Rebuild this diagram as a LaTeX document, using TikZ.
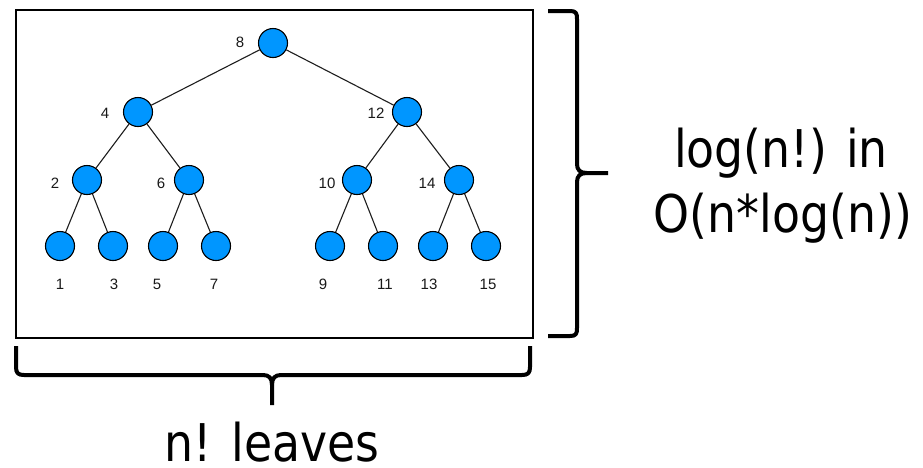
\documentclass[tikz,border=0pt]{standalone}
\usepackage{fontspec}
\setmainfont{Liberation Sans}
\newfontfamily\bigfont[FakeStretch=0.88]{DejaVu Sans}
\definecolor{nodeblue}{RGB}{0,150,255}
\definecolor{edgegray}{RGB}{30,30,30}
\begin{document}
\begin{tikzpicture}[x=1pt,y=-1pt,
  tnode/.style={circle,draw=black,line width=1.1pt,fill=nodeblue,minimum size=29pt,inner sep=0pt},
  tlabel/.style={font=\fontsize{15}{17}\selectfont,inner sep=0pt,text=black!90},
  tedge/.style={draw=edgegray,line width=1.1pt},
  bigtext/.style={font=\bigfont\fontsize{52}{62}\selectfont,inner sep=0pt,anchor=base},
  bracestyle/.style={draw=black,line width=4pt,line join=round}]
\useasboundingbox (0,0) rectangle (923,467);
\fill[white] (0,0) rectangle (923,467);
% frame
\draw[line width=1.5pt] (16,10) rectangle (533,338);
% nodes
\node[tnode] (n8) at (273,43) {};
\node[tnode] (n4) at (138,112) {};
\node[tnode] (n12) at (407,112) {};
\node[tnode] (n2) at (87,180) {};
\node[tnode] (n6) at (189,180) {};
\node[tnode] (n10) at (357,180) {};
\node[tnode] (n14) at (459,180) {};
\node[tnode] (n1) at (60,246) {};
\node[tnode] (n3) at (113,246) {};
\node[tnode] (n5) at (163,246) {};
\node[tnode] (n7) at (216,246) {};
\node[tnode] (n9) at (330,246) {};
\node[tnode] (n11) at (383,246) {};
\node[tnode] (n13) at (433,246) {};
\node[tnode] (n15) at (486,246) {};
% edges
\draw[tedge] (n8) -- (n4);
\draw[tedge] (n8) -- (n12);
\draw[tedge] (n4) -- (n2);
\draw[tedge] (n4) -- (n6);
\draw[tedge] (n12) -- (n10);
\draw[tedge] (n12) -- (n14);
\draw[tedge] (n2) -- (n1);
\draw[tedge] (n2) -- (n3);
\draw[tedge] (n6) -- (n5);
\draw[tedge] (n6) -- (n7);
\draw[tedge] (n10) -- (n9);
\draw[tedge] (n10) -- (n11);
\draw[tedge] (n14) -- (n13);
\draw[tedge] (n14) -- (n15);
% labels
\node[tlabel] (l8) at (240,42) {8};
\node[tlabel] (l4) at (105,113) {4};
\node[tlabel] (l12) at (376,113) {12};
\node[tlabel] (l2) at (55,183) {2};
\node[tlabel] (l6) at (161,183) {6};
\node[tlabel] (l10) at (327,183) {10};
\node[tlabel] (l14) at (427,183) {14};
\node[tlabel] (l1) at (60,284) {1};
\node[tlabel] (l3) at (114,284) {3};
\node[tlabel] (l5) at (157,284) {5};
\node[tlabel] (l7) at (214,284) {7};
\node[tlabel] (l9) at (323,284) {9};
\node[tlabel] (l11) at (385,284) {11};
\node[tlabel] (l13) at (429,284) {13};
\node[tlabel] (l15) at (488,284) {15};
% right brace
\draw[bracestyle] (548,11) -- (570,11) .. controls (576,11) and (577,13) .. (577,19)
  -- (577,164) .. controls (577,170) and (580,173) .. (587,173) -- (608,173);
\draw[bracestyle] (548,336) -- (570,336) .. controls (576,336) and (577,334) .. (577,328)
  -- (577,182) .. controls (577,176) and (580,173) .. (587,173);
% bottom brace
\draw[bracestyle] (16,346) -- (16,367) .. controls (16,373) and (18,375) .. (24,375)
  -- (263,375) .. controls (269,375) and (272,378) .. (272,385) -- (272,405);
\draw[bracestyle] (530,346) -- (530,367) .. controls (530,373) and (528,375) .. (522,375)
  -- (281,375) .. controls (275,375) and (272,378) .. (272,385);
% texts
\node[bigtext] (t1) at (781,167) {log(n!) in};
\node[bigtext] (t2) at (783,232) {O(n*log(n))};
\node[bigtext] (t3) at (272,461) {n! leaves};
\end{tikzpicture}
\end{document}
